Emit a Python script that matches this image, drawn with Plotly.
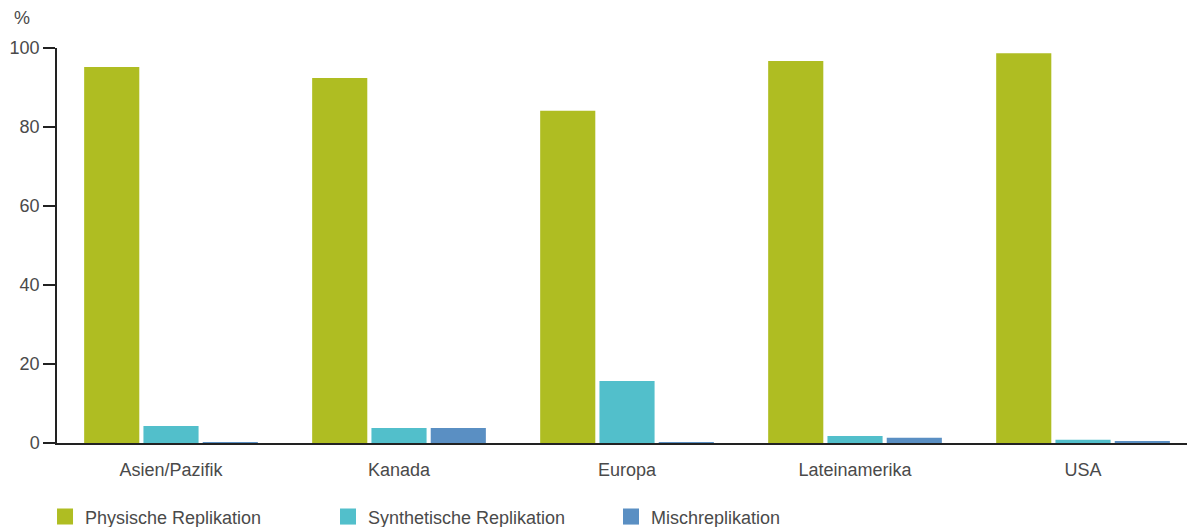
import plotly.graph_objects as go

categories = ["Asien/Pazifik", "Kanada", "Europa", "Lateinamerika", "USA"]
physisch = [95.2, 92.4, 84.1, 96.7, 98.7]
synthetisch = [4.3, 3.8, 15.7, 1.8, 0.8]
misch = [0.2, 3.8, 0.1, 1.3, 0.3]
series_names = ["Physische Replikation", "Synthetische Replikation", "Mischreplikation"]
colors = ["#AFBD22", "#52BFCB", "#5A8FC3"]
y_ticks = [0, 20, 40, 60, 80, 100]

fig = go.Figure()
for name, vals, col in zip(series_names, [physisch, synthetisch, misch], colors):
    fig.add_trace(go.Bar(x=categories, y=vals, name=name, marker_color=col,
                         marker_line_width=0, showlegend=False))
    fig.add_trace(go.Scatter(x=[None], y=[None], mode="markers", name=name,
                             marker=dict(symbol="square", size=16, color=col),
                             showlegend=True))

font_fam = "Liberation Sans, Arial, sans-serif"
txt = "#4a4a4a"
fig.update_layout(
    width=1187, height=527,
    margin=dict(l=57, r=0, t=48, b=84, autoexpand=False),
    plot_bgcolor="white", paper_bgcolor="white",
    barmode="group", bargap=0.22, bargroupgap=0.07,
    font=dict(family=font_fam, size=18, color=txt),
    xaxis=dict(range=[-0.5, 4.456], showline=True, linecolor="#222", linewidth=1.5,
               ticks="", showgrid=False, zeroline=False, ticklabelstandoff=10),
    yaxis=dict(range=[0, 100], tickvals=y_ticks, showline=True, linecolor="#222",
               linewidth=1.5, ticks="outside", ticklen=12, tickcolor="#222",
               tickwidth=1.5, showgrid=False, zeroline=False),
    legend=dict(orientation="h", xref="paper", yref="paper",
                x=-0.0106, xanchor="left", y=-0.187, yanchor="middle",
                font=dict(size=18, color=txt), itemwidth=30,
                entrywidth=238, entrywidthmode="pixels",
                tracegroupgap=0),
    annotations=[dict(text="%", xref="paper", yref="paper", x=-0.04, y=1.046,
                      xanchor="left", yanchor="bottom", showarrow=False,
                      font=dict(size=18, color=txt))],
)

fig.write_html("out.html")
